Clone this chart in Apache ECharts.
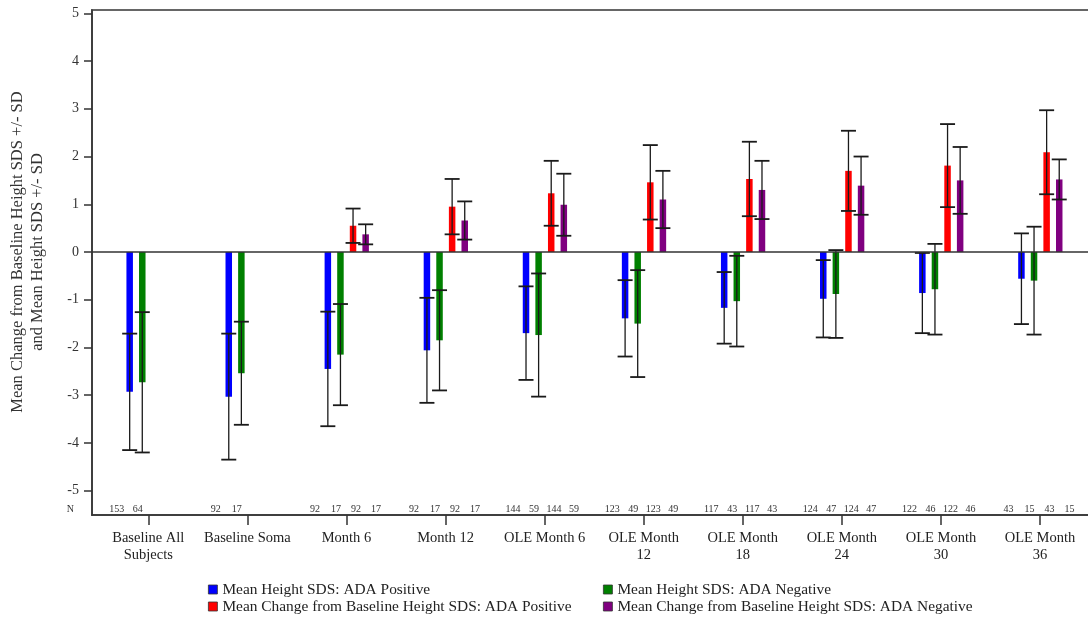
<!DOCTYPE html>
<html>
<head>
<meta charset="utf-8">
<script src="https://cdn.jsdelivr.net/npm/echarts@6/dist/echarts.min.js"></script>
<style>
html,body{margin:0;padding:0;background:#fff;}
#chart{width:1088px;height:617px;}
</style>
</head>
<body>
<div id="chart"></div>
<script>
// ---- data ----
const categories = ['Baseline All\nSubjects', 'Baseline Soma', 'Month 6', 'Month 12', 'OLE Month 6',
  'OLE Month\n12', 'OLE Month\n18', 'OLE Month\n24', 'OLE Month\n30', 'OLE Month\n36'];
const seriesNames = ['Mean Height SDS: ADA Positive', 'Mean Height SDS: ADA Negative',
  'Mean Change from Baseline Height SDS: ADA Positive', 'Mean Change from Baseline Height SDS: ADA Negative'];
const yTitle = ['Mean Change from Baseline Height SDS +/- SD', 'and Mean Height SDS +/- SD'];

const heightPos   = [-2.93, -3.03, -2.45, -2.06, -1.70, -1.39, -1.17, -0.98, -0.86, -0.56];
const heightPosSD = [ 1.22,  1.32,  1.20,  1.10,  0.98,  0.80,  0.75,  0.81,  0.84,  0.95];
const heightNeg   = [-2.73, -2.54, -2.15, -1.85, -1.74, -1.50, -1.03, -0.88, -0.78, -0.60];
const heightNegSD = [ 1.47,  1.08,  1.06,  1.05,  1.29,  1.12,  0.95,  0.92,  0.95,  1.13];
const changePos   = [null, null, 0.55, 0.95, 1.23, 1.46, 1.53, 1.70, 1.81, 2.09];
const changePosSD = [null, null, 0.36, 0.58, 0.68, 0.78, 0.78, 0.84, 0.87, 0.88];
const changeNeg   = [null, null, 0.37, 0.66, 0.99, 1.10, 1.30, 1.39, 1.50, 1.52];
const changeNegSD = [null, null, 0.21, 0.40, 0.65, 0.60, 0.61, 0.61, 0.70, 0.42];

const nHeightPos = [153, 92, 92, 92, 144, 123, 117, 124, 122, 43];
const nHeightNeg = [64, 17, 17, 17, 59, 49, 43, 47, 46, 15];
const nChangePos = [null, null, 92, 92, 144, 123, 117, 124, 122, 43];
const nChangeNeg = [null, null, 17, 17, 59, 49, 43, 47, 46, 15];

const yTicks = [-5, -4, -3, -2, -1, 0, 1, 2, 3, 4, 5];

// ---- styling / layout ----
const FONT = '"Liberation Serif", "DejaVu Serif", serif';
const colors = ['#0000ff', '#008000', '#ff0000', '#800080'];
const barOffsets = [-18.6, -6, 6.6, 19.2];
const nOffsets = [-31.5, -10.5, 9.5, 29.5];
const Y_MIN = -5.51, Y_MAX = 5.07, N_ROW = -5.4;

function barSeries(k, means, sds) {
  const data = [];
  means.forEach((m, i) => { if (m != null) data.push([i, m, sds[i]]); });
  return {
    type: 'custom',
    name: seriesNames[k],
    itemStyle: { color: colors[k] },
    encode: { x: 0, y: 1 },
    data: data,
    z: 3,
    renderItem: function (params, api) {
      const i = api.value(0), m = api.value(1), sd = api.value(2);
      const base = api.coord([i, 0]);
      const top = api.coord([i, m]);
      const hi = api.coord([i, m + sd]);
      const lo = api.coord([i, m - sd]);
      const x = base[0] + barOffsets[k];
      const bw = 6.5, cap = 7.5;
      const ink = '#1a1a1a';
      return {
        type: 'group',
        children: [
          { type: 'rect', shape: { x: x - bw / 2, y: Math.min(base[1], top[1]), width: bw, height: Math.abs(top[1] - base[1]) },
            style: { fill: colors[k] } },
          { type: 'line', shape: { x1: x, y1: hi[1], x2: x, y2: lo[1] }, style: { stroke: ink, lineWidth: 1.3 } },
          { type: 'line', shape: { x1: x - cap, y1: hi[1], x2: x + cap, y2: hi[1] }, style: { stroke: ink, lineWidth: 1.8 } },
          { type: 'line', shape: { x1: x - cap, y1: lo[1], x2: x + cap, y2: lo[1] }, style: { stroke: ink, lineWidth: 1.8 } }
        ]
      };
    }
  };
}

function nSeries() {
  const lists = [nHeightPos, nHeightNeg, nChangePos, nChangeNeg];
  const data = [];
  lists.forEach((arr, k) => arr.forEach((n, i) => { if (n != null) data.push([i, N_ROW, n, k]); }));
  return {
    type: 'custom',
    name: 'N',
    silent: true,
    encode: { x: 0, y: 1 },
    data: data,
    z: 4,
    renderItem: function (params, api) {
      const i = api.value(0), n = api.value(2), k = api.value(3);
      const p = api.coord([i, N_ROW]);
      return {
        type: 'text',
        style: { text: String(n), x: p[0] + nOffsets[k], y: p[1], align: 'center', verticalAlign: 'middle',
          font: '10px ' + FONT, fill: '#333' }
      };
    }
  };
}

const s0 = barSeries(0, heightPos, heightPosSD);
const s1 = barSeries(1, heightNeg, heightNegSD);
const s2 = barSeries(2, changePos, changePosSD);
const s3 = barSeries(3, changeNeg, changeNegSD);
s0.markLine = {
  silent: true, symbol: 'none', label: { show: false },
  lineStyle: { color: '#333', width: 1.5, type: 'solid' },
  data: [{ yAxis: 0 }]
};

const legendText = { fontFamily: FONT, fontSize: 15.4, color: '#222' };
function legendAt(k, left, top) {
  return { left: left, top: top, orient: 'horizontal', itemWidth: 9, itemHeight: 9, icon: 'rect', padding: 0,
    data: [seriesNames[k]], textStyle: legendText, itemStyle: { borderColor: '#333', borderWidth: 0.8 } };
}

const chart = echarts.init(document.getElementById('chart'), null, { renderer: 'canvas' });
chart.setOption({
  animation: false,
  backgroundColor: '#fff',
  grid: { left: 92, top: 10, right: -10, bottom: 102, containLabel: false, outerBoundsMode: 'none',
    show: true, borderColor: '#666', borderWidth: 2, backgroundColor: 'transparent' },
  legend: [legendAt(0, 208, 582), legendAt(1, 603, 582), legendAt(2, 208, 599), legendAt(3, 603, 599)],
  graphic: [{
    type: 'text', z: 10,
    x: 28, y: 252, rotation: Math.PI / 2,
    style: { text: yTitle.join('\n'), font: '16.5px ' + FONT, fill: '#333', align: 'center', verticalAlign: 'middle', lineHeight: 20 }
  }],
  xAxis: {
    type: 'value',
    min: -0.568, max: 9.585,
    splitLine: { show: false },
    axisLine: { show: true, onZero: false, lineStyle: { color: '#333', width: 1.5 } },
    axisTick: { show: true, customValues: categories.map((c, i) => i), length: 10, lineStyle: { color: '#333', width: 1.5 } },
    axisLabel: {
      show: true, customValues: categories.map((c, i) => i), margin: 15,
      formatter: function (v) { return categories[Math.round(v)]; },
      fontFamily: FONT, fontSize: 14.5, color: '#222', lineHeight: 17
    }
  },
  yAxis: {
    type: 'value',
    min: Y_MIN, max: Y_MAX,
    splitLine: { show: false },
    axisLine: { show: true, onZero: false, lineStyle: { color: '#333', width: 1.5 } },
    axisTick: { show: true, customValues: yTicks, length: 8, lineStyle: { color: '#333', width: 1.5 } },
    axisLabel: {
      show: true, customValues: [N_ROW].concat(yTicks), margin: 13,
      formatter: function (v) { return v < -5.2 ? '{n|N}' : String(v); },
      fontFamily: FONT, fontSize: 14, color: '#333',
      rich: { n: { fontFamily: FONT, fontSize: 10, color: '#333', padding: [0, 5, 0, 0] } }
    }
  },
  series: [s0, s1, s2, s3, nSeries()]
});
</script>
</body>
</html>
